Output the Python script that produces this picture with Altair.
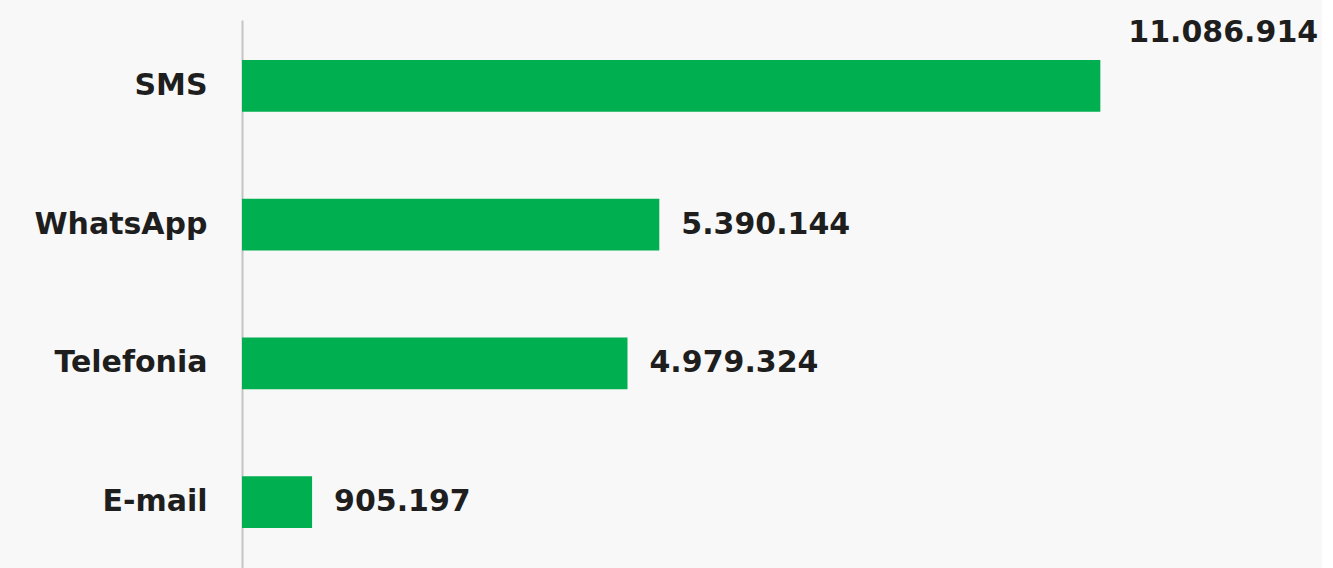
import altair as alt
import pandas as pd

# Contacts by channel
channels = ["SMS", "WhatsApp", "Telefonia", "E-mail"]
contacts = [11086914, 5390144, 4979324, 905197]

df = pd.DataFrame({"canal": channels, "valor": contacts})
df["rotulo"] = [f"{v:,}".replace(",", ".") for v in df["valor"]]

GREEN = "#00b050"
FONT = "DejaVu Sans"
TEXT = "#1e1e1e"
SIZE = 30

y_enc = alt.Y(
    "canal:N",
    sort=channels,
    title=None,
    scale=alt.Scale(paddingInner=0.628, paddingOuter=0.289),
    axis=alt.Axis(
        labelFont=FONT,
        labelFontWeight="bold",
        labelFontSize=SIZE,
        labelColor=TEXT,
        labelPadding=35,
        ticks=False,
        domainColor="#c4c4c4",
        domainWidth=2,
        grid=False,
    ),
)
x_enc = alt.X(
    "valor:Q",
    title=None,
    scale=alt.Scale(domain=[0, 13950000], nice=False),
    axis=None,
)

base = alt.Chart(df).encode(y=y_enc, x=x_enc)

bars = base.mark_bar(color=GREEN)

labels = base.transform_filter("datum.canal != 'SMS'").mark_text(
    align="left", baseline="middle", dx=22, font=FONT, fontWeight="bold",
    fontSize=SIZE, color=TEXT,
).encode(text="rotulo:N")

top_label = base.transform_filter("datum.canal == 'SMS'").mark_text(
    align="left", baseline="middle", dx=28, dy=-53, font=FONT, fontWeight="bold",
    fontSize=SIZE, color=TEXT,
).encode(text="rotulo:N")

chart = (
    alt.layer(bars, labels, top_label)
    .properties(
        width=1080,
        height=548,
        background="#f8f8f8",
        padding={"left": 242, "top": 20, "right": 0, "bottom": 0},
        autosize=alt.AutoSizeParams(type="none"),
    )
    .configure_view(stroke=None)
)

chart.save("out.html", embed_options={"renderer": "svg", "actions": False})
